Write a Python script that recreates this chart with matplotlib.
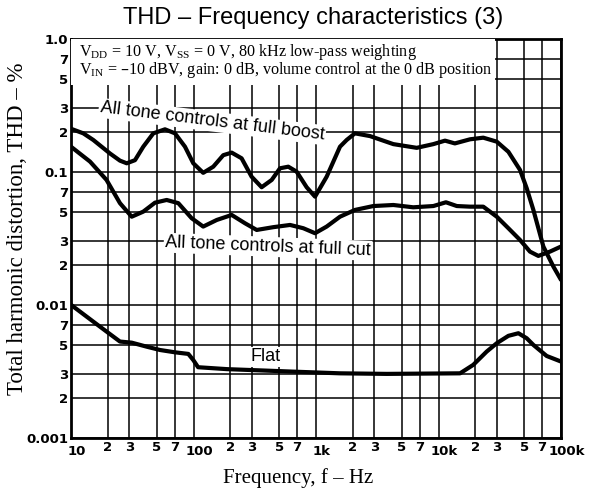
import matplotlib
matplotlib.use("Agg")
import matplotlib.pyplot as plt
from matplotlib.patches import Rectangle
from matplotlib.ticker import FixedLocator, FixedFormatter
from matplotlib.transforms import ScaledTranslation
from matplotlib.font_manager import FontProperties

# THD (%)
boost_f = [10, 12.6, 15.2, 20.8, 25.1, 28.5, 33.3, 38.9, 47, 58.5, 70.6, 85.2, 99.6,
           120, 145, 175, 205, 247, 298, 360, 435, 508, 594, 695, 839, 982, 1222,
           1570, 1780, 2080, 2760, 4280, 6640, 9080, 11300, 13600, 18100, 23200,
           29900, 37200, 46300, 52500, 59500, 71800, 86600, 100000]
boost_thd = [0.21, 0.194, 0.173, 0.137, 0.121, 0.1156, 0.122, 0.154, 0.194, 0.208,
             0.194, 0.154, 0.1156, 0.098, 0.109, 0.133, 0.139, 0.126, 0.0917, 0.0764,
             0.0867, 0.106, 0.109, 0.100, 0.0764, 0.0649, 0.0917, 0.154, 0.173, 0.194,
             0.185, 0.161, 0.151, 0.161, 0.171, 0.163, 0.175, 0.180, 0.168, 0.141,
             0.103, 0.075, 0.0516, 0.0274, 0.0194, 0.0154]

cut_f = [10, 14.3, 19.5, 25.1, 31.3, 38.9, 48.5, 60.4, 75.2, 96.6, 120, 155, 205,
         263, 328, 448, 614, 788, 982, 1222, 1570, 2080, 2940, 4280, 6220, 9080,
         11500, 14100, 18100, 23200, 29900, 37200, 46300, 55800, 65300, 81300, 100000]
cut_thd = [0.154, 0.119, 0.0867, 0.058, 0.0459, 0.0501, 0.0585, 0.0613, 0.058, 0.0447,
           0.0387, 0.0434, 0.0473, 0.041, 0.0365, 0.0383, 0.0398, 0.0376, 0.0345,
           0.0387, 0.0459, 0.0516, 0.0552, 0.0562, 0.054, 0.0552, 0.0589, 0.0552,
           0.0546, 0.0546, 0.0459, 0.0376, 0.0307, 0.0251, 0.0233, 0.0251, 0.0274]

flat_f = [10, 15.2, 19.5, 25.1, 31.3, 41.5, 53.3, 70.6, 90.7, 99.6, 109, 187, 653,
          1570, 3780, 15000, 19200, 24700, 29900, 37200, 44900, 52500, 59500, 76400,
          100000]
flat_thd = [0.01, 0.00748, 0.0063, 0.0053, 0.0052, 0.00485, 0.00458, 0.0044, 0.00428,
            0.00385, 0.0034, 0.00329, 0.00315, 0.00306, 0.00303, 0.00306, 0.00354,
            0.00445, 0.00515, 0.00585, 0.00612, 0.00561, 0.005, 0.00413, 0.00375]

x_major = [10, 100, 1000, 10000, 100000]
x_major_lbl = ["10", "100", "1k", "10k", "100k"]
x_minor = [m * d for d in [10, 100, 1000, 10000] for m in (2, 3, 5, 7)]
x_minor_lbl = ["2", "3", "5", "7"] * 4

y_major = [0.001, 0.01, 0.1, 1.0]
y_major_lbl = ["0.001", "0.01", "0.1", "1.0"]
y_minor = [m * d for d in [0.001, 0.01, 0.1] for m in (2, 3, 5, 7)]
y_minor_lbl = ["2", "3", "5", "7"] * 3

fig = plt.figure(figsize=(5.99, 4.92), dpi=100)
ax = fig.add_axes([71 / 599, 1 - 438 / 492, 490 / 599, 399.5 / 492])
ax.set_xscale("log")
ax.set_yscale("log")
ax.set_xlim(10, 100000)
ax.set_ylim(0.001, 1.0)

ax.xaxis.set_major_locator(FixedLocator(x_major))
ax.xaxis.set_major_formatter(FixedFormatter(x_major_lbl))
ax.xaxis.set_minor_locator(FixedLocator(x_minor))
ax.xaxis.set_minor_formatter(FixedFormatter(x_minor_lbl))
ax.yaxis.set_major_locator(FixedLocator(y_major))
ax.yaxis.set_major_formatter(FixedFormatter(y_major_lbl))
ax.yaxis.set_minor_locator(FixedLocator(y_minor))
ax.yaxis.set_minor_formatter(FixedFormatter(y_minor_lbl))

tick_font = FontProperties(family="DejaVu Sans", weight="bold", size=9.5)
ax.tick_params(axis="both", which="both", length=0)
ax.tick_params(axis="x", which="major", pad=5)
ax.tick_params(axis="x", which="minor", pad=2)
ax.tick_params(axis="y", which="both", pad=2)
for lbl in ax.get_xticklabels(which="both") + ax.get_yticklabels(which="both"):
    lbl.set_fontproperties(tick_font)
# decade labels sit a bit to the right of their grid line
shift = ScaledTranslation(4 / 72, 0, fig.dpi_scale_trans)
for lbl in ax.get_xticklabels():
    lbl.set_transform(lbl.get_transform() + shift)

ax.grid(True, which="both", color="black", linewidth=1.1)
for s in ax.spines.values():
    s.set_linewidth(2)

for f, v in [(boost_f, boost_thd), (cut_f, cut_thd), (flat_f, flat_thd)]:
    ax.plot(f, v, color="black", lw=3, solid_joinstyle="round",
            solid_capstyle="round", zorder=5)

# white box behind the conditions text
ax.add_patch(Rectangle((10, 0.445), 29000 - 10, 1.0 - 0.445, facecolor="white",
                       edgecolor="none", zorder=3))
cond = (r"$\mathregular{V_{DD}}$ = 10 V, $\mathregular{V_{SS}}$ = 0 V, 80 kHz low-pass weighting"
        "\n"
        r"$\mathregular{V_{IN}}$ = " "\u2013" "10 dBV, gain: 0 dB, volume control at the 0 dB position")
ax.text(0.016, 0.99, cond, transform=ax.transAxes, ha="left", va="top",
        family="Liberation Serif", fontsize=11.6, linespacing=0.85, zorder=4)

box = dict(facecolor="white", edgecolor="none", pad=1)
ax.text(142, 0.238, "All tone controls at full boost", rotation=-7,
        rotation_mode="anchor", ha="center", va="center", family="Liberation Sans",
        fontsize=13, bbox=box, zorder=4)
ax.text(405, 0.0273, "All tone controls at full cut", rotation=-2.3,
        rotation_mode="anchor", ha="center", va="center", family="Liberation Sans",
        fontsize=13, bbox=box, zorder=4)
ax.text(384, 0.00406, "Flat", ha="center", va="center", family="Liberation Sans",
        fontsize=13, bbox=box, zorder=4)

fig.text(313 / 599, 1 - 18 / 492, "THD \u2013 Frequency characteristics (3)",
         ha="center", va="center", family="Liberation Sans", fontsize=17)
fig.text(298 / 599, 1 - 478 / 492, "Frequency, f \u2013 Hz", ha="center", va="center",
         family="Liberation Serif", fontsize=15)
fig.text(18 / 599, 1 - 229 / 492, "Total harmonic distortion, THD \u2013 %",
         ha="center", va="center", rotation=90, family="Liberation Serif", fontsize=16.5)

fig.savefig("out.png", dpi=100)
